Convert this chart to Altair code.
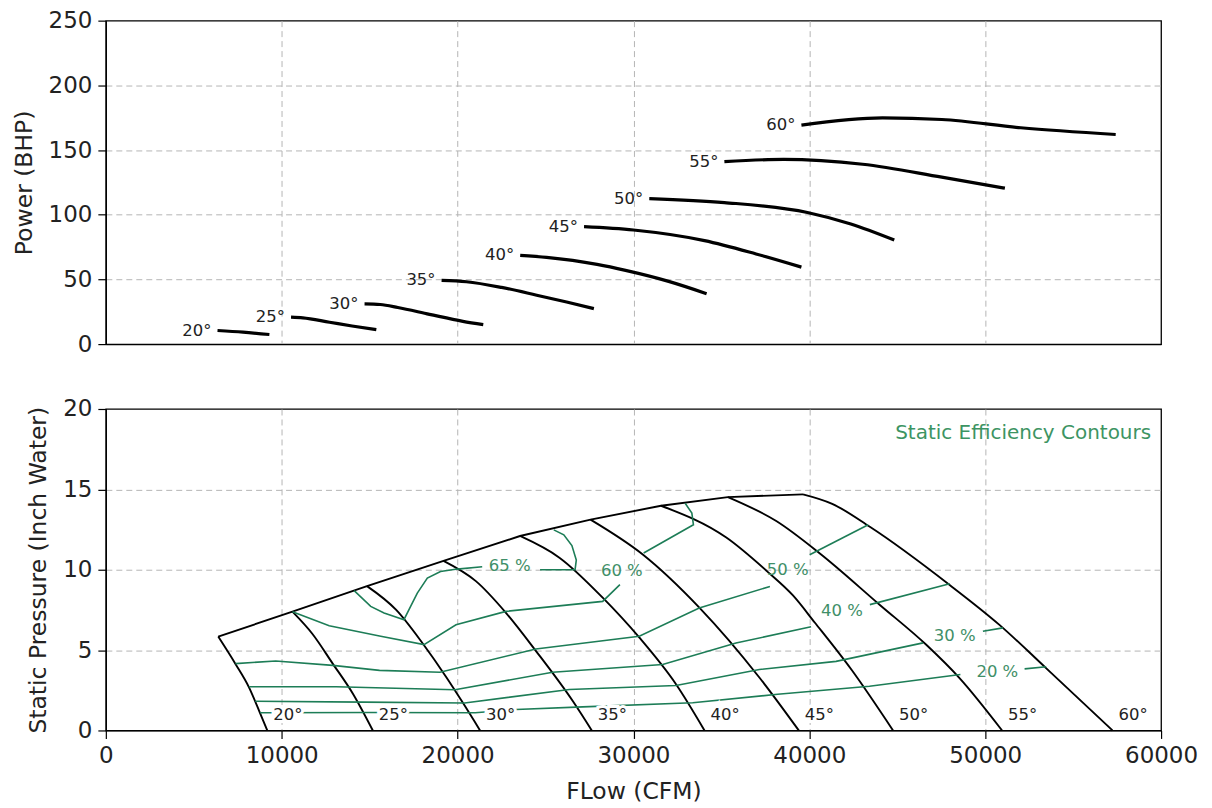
import altair as alt
import pandas as pd

FONT = "DejaVu Sans"
GREEN = "#1d7d57"
GREEN_TXT = "#3f8f68"
W = 1057
H_TOP = 324
H_BOT = 322

ANGLES = [20, 25, 30, 35, 40, 45, 50, 55, 60]
X_TICKS = [0, 10000, 20000, 30000, 40000, 50000, 60000]
P_TICKS = [0, 50, 100, 150, 200, 250]
SP_TICKS = [0, 5, 10, 15, 20]

# ---- Power (BHP) vs flow (CFM), one list per blade angle ----
pw20 = [(6350, 10.5), (7800, 9.2), (9300, 7.4)]
pw25 = [(10530, 20.8), (11200, 20.3), (12720, 16.9), (14000, 14.0), (15380, 11.2)]
pw30 = [(14710, 31.1), (15600, 30.6), (16600, 28.3), (18400, 23.0), (20300, 17.6), (21460, 15.1)]
pw35 = [(19090, 49.2), (20500, 48.2), (22500, 43.8), (24500, 37.8), (26200, 32.5), (27750, 27.4)]
pw40 = [(23560, 68.6), (25060, 67.0), (27930, 61.6), (29550, 57.0), (32000, 48.5), (34160, 39.0)]
pw45 = [(27190, 90.8), (30000, 88.2), (34040, 80.0), (36970, 69.7), (39550, 59.5)]
pw50 = [(30900, 112.5), (35170, 109.4), (39890, 101.7), (42360, 92.8), (44830, 80.4)]
pw55 = [(35170, 141.0), (38540, 142.8), (43030, 139.0), (47530, 129.0), (51120, 120.5)]
pw60 = [(39550, 169.2), (44160, 174.8), (47530, 173.6), (52020, 167.2), (57420, 162.0)]
POWER = [pw20, pw25, pw30, pw35, pw40, pw45, pw50, pw55, pw60]

# ---- Static pressure (inch water) vs flow (CFM), one list per blade angle ----
sp20 = [(6390, 5.84), (7380, 4.12), (8140, 2.68), (8710, 1.24), (9180, 0)]
sp25 = [(10610, 7.39), (11750, 6.0), (12900, 4.16), (14040, 2.3), (15180, 0)]
sp30 = [(14850, 8.98), (16510, 7.5), (18040, 5.38), (19370, 3.3), (20320, 1.69), (21280, 0)]
sp35 = [(19200, 10.55), (21040, 9.29), (22750, 7.32), (24460, 4.94), (26550, 1.83), (27630, 0)]
sp40 = [(23550, 12.1), (25790, 10.75), (28250, 8.26), (30340, 5.77), (32430, 2.86), (34040, 0)]
sp45 = [(27560, 13.12), (30530, 10.95), (33760, 7.63), (37170, 3.28), (39400, 0)]
sp50 = [(31570, 13.98), (35280, 12.0), (37600, 9.9), (39070, 8.4), (40320, 6.7), (42390, 3.79), (44760, 0)]
sp55 = [(35370, 14.52), (38120, 13.03), (40600, 11.01), (44010, 7.81), (46650, 5.33), (48540, 3.26), (50960, 0)]
sp60 = [(39640, 14.69), (41300, 14.1), (43440, 12.67), (47980, 9.05), (50810, 6.57), (53460, 3.88), (57240, 0)]
PRESSURE = [sp20, sp25, sp30, sp35, sp40, sp45, sp50, sp55, sp60]

# ---- Static efficiency contours (pieces on each side of the inline label) ----
c65a = [(14120, 8.70), (15060, 7.72), (15820, 7.31), (16950, 6.89), (17330, 7.72), (17710, 8.55),
        (18280, 9.48), (19030, 9.89), (19980, 10.04), (21400, 10.19)]
c65b = [(24690, 10.0), (26680, 10.0), (26750, 10.6), (26500, 11.5), (26040, 12.17), (25470, 12.48)]
c60a = [(10610, 7.39), (12700, 6.52), (15630, 5.86), (18090, 5.34), (19910, 6.58), (22750, 7.41),
        (28250, 8.03), (29230, 9.07)]
c60b = [(30580, 11.04), (33410, 12.8), (33320, 13.52), (32940, 14.14)]
c50a = [(7370, 4.16), (9660, 4.32), (12900, 4.05), (15560, 3.74), (19000, 3.62), (24450, 5.07),
        (30330, 5.86), (33740, 7.62), (37760, 8.96)]
c50b = [(40020, 10.93), (43350, 12.8)]
c40a = [(8130, 2.72), (13090, 2.72), (19850, 2.53), (25400, 3.62), (31660, 4.1), (35830, 5.44),
        (40100, 6.45)]
c40b = [(43440, 7.83), (47980, 9.13)]
c30a = [(8490, 1.82), (14680, 1.76), (20400, 1.71), (26350, 2.55), (32420, 2.8), (37160, 3.79),
        (41520, 4.3), (46470, 5.45)]
c30b = [(49870, 6.17), (51010, 6.38)]
c20a = [(8770, 1.1), (15000, 1.12), (21000, 1.1), (23320, 1.30), (27110, 1.47), (33370, 1.72),
        (38200, 2.25), (43420, 2.75), (48590, 3.48)]
c20b = [(52240, 3.83), (53470, 3.96)]
CONTOURS = {"c65a": c65a, "c65b": c65b, "c60a": c60a, "c60b": c60b, "c50a": c50a, "c50b": c50b,
            "c40a": c40a, "c40b": c40b, "c30a": c30a, "c30b": c30b, "c20a": c20a, "c20b": c20b}

EFF_LABELS = ["65 %", "60 %", "50 %", "40 %", "30 %", "20 %"]
EFF_LABEL_FLOW = [22960, 29340, 38770, 41860, 48270, 50690]
EFF_LABEL_SP = [10.25, 9.9, 10.0, 7.45, 5.9, 3.66]

TITLE_TXT = "Static Efficiency Contours"


def curves_df(curves):
    rows = []
    for ang, pts in zip(ANGLES, curves):
        for i, (f, v) in enumerate(pts):
            rows.append({"flow": f, "val": v, "angle": f"{ang}°", "idx": i})
    return pd.DataFrame(rows)


power_df = curves_df(POWER)
press_df = curves_df(PRESSURE)
top_lab_df = pd.DataFrame({"flow": [p[0][0] for p in POWER], "val": [p[0][1] for p in POWER],
                           "label": [f"{a}°" for a in ANGLES]})
bot_lab_df = pd.DataFrame({"flow": [p[-1][0] for p in PRESSURE], "val": [p[-1][1] for p in PRESSURE],
                           "label": [f"{a}°" for a in ANGLES]})
surge_df = pd.DataFrame({"flow": [p[0][0] for p in PRESSURE], "val": [p[0][1] for p in PRESSURE],
                         "idx": list(range(len(PRESSURE)))})
cont_rows = []
for name, pts in CONTOURS.items():
    for i, (f, v) in enumerate(pts):
        cont_rows.append({"flow": f, "val": v, "seg": name, "idx": i})
cont_df = pd.DataFrame(cont_rows)
eff_lab_df = pd.DataFrame({"flow": EFF_LABEL_FLOW, "val": EFF_LABEL_SP, "label": EFF_LABELS})


def inner_grid(lo, hi):
    # hide the grid line where it would sit on the frame
    return {"condition": {"test": f"datum.value <= {lo} || datum.value >= {hi}", "value": 0}, "value": 1}


xscale = alt.Scale(domain=[0, 60000], nice=False, zero=False)

# ---------------- top panel ----------------
ptop_scale = alt.Scale(domain=[0, 250], nice=False)
x_top = alt.X("flow:Q", scale=xscale,
              axis=alt.Axis(values=X_TICKS, labels=False, ticks=False, domain=True, title=None,
                            gridOpacity=inner_grid(0, 60000)))
y_top = alt.Y("val:Q", scale=ptop_scale,
              axis=alt.Axis(values=P_TICKS, title="Power (BHP)", gridOpacity=inner_grid(0, 250)))

top_lines = alt.Chart(power_df).mark_line(color="black", strokeWidth=3.2, interpolate="monotone").encode(
    x=x_top, y=y_top, detail="angle:N", order="idx:Q")
top_labels = alt.Chart(top_lab_df).mark_text(
    align="right", baseline="middle", dx=-6, font=FONT, fontSize=16.5, color="#222").encode(
    x=x_top, y=y_top, text="label:N")
top = alt.layer(top_lines, top_labels).properties(width=W, height=H_TOP)

# ---------------- bottom panel ----------------
sp_scale = alt.Scale(domain=[0, 20], nice=False)
xb = alt.X("flow:Q", scale=xscale,
           axis=alt.Axis(values=X_TICKS, format="d", title="FLow (CFM)", gridOpacity=inner_grid(0, 60000)))
yb = alt.Y("val:Q", scale=sp_scale,
           axis=alt.Axis(values=SP_TICKS, title="Static Pressure (Inch Water)", gridOpacity=inner_grid(0, 20)))

blades = alt.Chart(press_df).mark_line(color="black", strokeWidth=1.9, interpolate="monotone").encode(
    x=xb, y=yb, detail="angle:N", order="idx:Q")
surge = alt.Chart(surge_df).mark_line(color="black", strokeWidth=1.9).encode(x=xb, y=yb, order="idx:Q")
contours = alt.Chart(cont_df).mark_line(color=GREEN, strokeWidth=1.6).encode(
    x=xb, y=yb, detail="seg:N", order="idx:Q")
eff_labels = alt.Chart(eff_lab_df).mark_text(
    align="center", baseline="middle", font=FONT, fontSize=16.5, color=GREEN_TXT).encode(
    x=xb, y=yb, text="label:N")
halo = alt.Chart(bot_lab_df).mark_text(
    align="left", baseline="middle", dx=6, dy=-15, font=FONT, fontSize=16.5,
    color="white", stroke="white", strokeWidth=6).encode(x=xb, y=yb, text="label:N")
bot_labels = alt.Chart(bot_lab_df).mark_text(
    align="left", baseline="middle", dx=6, dy=-15, font=FONT, fontSize=16.5, color="#222").encode(
    x=xb, y=yb, text="label:N")
title = alt.Chart(pd.DataFrame({"t": [TITLE_TXT]})).mark_text(
    align="right", baseline="middle", font=FONT, fontSize=20, color="#3d9463").encode(
    x=alt.value(W - 10), y=alt.value(24), text="t:N")

bottom = alt.layer(blades, surge, contours, eff_labels, halo, bot_labels, title).properties(
    width=W, height=H_BOT)

chart = alt.vconcat(top, bottom, spacing=65, bounds="flush").properties(
    padding={"left": 3, "top": 0, "right": 5, "bottom": 0},
    background="white",
).configure_view(stroke="black", strokeWidth=1.3).configure_axis(
    labelFont=FONT, titleFont=FONT, labelFontSize=23, titleFontSize=23.5,
    labelColor="#222", titleColor="#222", titleFontWeight="normal",
    tickColor="black", tickSize=8, tickWidth=1.2, labelPadding=6, titlePadding=12,
    gridColor="#b5b5b5", gridDash=[6, 4], gridWidth=1, domainColor="black", domainWidth=1.3,
    labelFlush=False, labelOverlap=False,
)

chart.save("out.html", embed_options={"renderer": "svg", "actions": False})
